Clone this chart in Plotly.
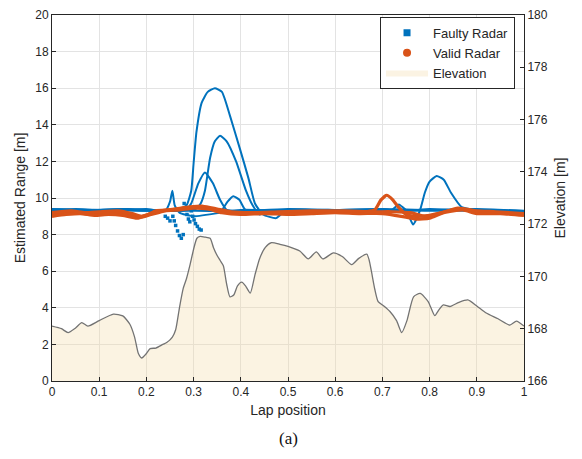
import plotly.graph_objects as go

BLUE = "#0072BD"
ORANGE = "#D95319"

# ---------------- Elevation profile ----------------
elev_x = [0.0, 0.02, 0.034, 0.05, 0.063, 0.076, 0.1, 0.13, 0.15, 0.165, 0.175, 0.183, 0.19, 0.2,
          0.208, 0.22, 0.235, 0.243, 0.255, 0.262, 0.27, 0.278, 0.285, 0.292, 0.3, 0.307, 0.314,
          0.325, 0.335, 0.342, 0.349, 0.356, 0.363, 0.37, 0.377, 0.385, 0.393, 0.402, 0.41, 0.42,
          0.43, 0.44, 0.452, 0.465, 0.483, 0.5, 0.525, 0.543, 0.56, 0.574, 0.596, 0.615, 0.635,
          0.65, 0.667, 0.672, 0.677, 0.684, 0.691, 0.703, 0.716, 0.73, 0.741, 0.752, 0.766, 0.78,
          0.797, 0.811, 0.82, 0.829, 0.843, 0.862, 0.881, 0.9, 0.92, 0.945, 0.97, 0.984, 1.0]
elev_m = [168.10, 168.00, 167.85, 168.03, 168.23, 168.10, 168.31, 168.56, 168.49, 168.17, 167.68,
          167.05, 166.88, 167.05, 167.24, 167.26, 167.40, 167.47, 167.68, 167.96, 168.80, 169.54,
          169.92, 170.41, 171.04, 171.46, 171.53, 171.50, 171.46, 171.11, 170.83, 170.62, 170.41,
          169.71, 169.22, 169.29, 169.64, 169.78, 169.64, 169.36, 170.06, 170.69, 171.11, 171.29,
          171.23, 171.15, 170.97, 170.67, 170.94, 170.67, 170.90, 170.76, 170.45, 170.69, 170.85,
          170.62, 170.17, 169.50, 169.04, 168.87, 168.66, 168.31, 167.85, 168.31, 169.22, 169.35,
          169.04, 168.50, 168.73, 168.91, 168.85, 169.01, 169.10, 168.87, 168.60, 168.38, 168.14,
          168.29, 168.10]

# ---------------- Faulty radar laps ----------------
fA_x = [0, 0.05, 0.1, 0.15, 0.2, 0.25, 0.27, 0.285, 0.295, 0.3, 0.306, 0.317, 0.33, 0.345, 0.36,
        0.377, 0.398, 0.416, 0.43, 0.447, 0.475, 0.497, 0.55, 0.6, 0.65, 0.7, 0.75, 0.8, 0.85, 0.9,
        0.95, 1.0]
fA_y = [9.35, 9.4, 9.35, 9.4, 9.3, 9.35, 9.4, 9.6, 10.4, 11.9, 13.6, 15.2, 15.8, 16.0, 15.8, 14.5,
        12.7, 11.1, 9.7, 9.1, 8.9, 9.35, 9.35, 9.35, 9.3, 9.35, 9.3, 9.4, 9.35, 9.3, 9.35, 9.2]

fB_x = [0, 0.1, 0.2, 0.28, 0.305, 0.315, 0.324, 0.335, 0.345, 0.356, 0.37, 0.39, 0.411, 0.425,
        0.44, 0.46, 0.5, 0.6, 0.7, 0.8, 0.9, 1.0]
fB_y = [9.3, 9.35, 9.3, 9.3, 9.4, 9.7, 10.4, 12.2, 13.1, 13.4, 13.1, 12.0, 10.4, 9.6, 9.1, 9.3,
        9.35, 9.3, 9.35, 9.3, 9.35, 9.25]

fC_x = [0, 0.08, 0.16, 0.22, 0.27, 0.285, 0.295, 0.31, 0.324, 0.341, 0.356, 0.37, 0.4, 0.5, 0.6,
        0.7, 0.8, 0.9, 1.0]
fC_y = [9.4, 9.35, 9.4, 9.3, 9.3, 9.4, 9.7, 10.8, 11.4, 10.8, 9.9, 9.35, 9.3, 9.4, 9.35, 9.4,
        9.35, 9.4, 9.3]

fD_x = [0, 0.1, 0.2, 0.3, 0.35, 0.36, 0.372, 0.384, 0.397, 0.41, 0.5, 0.6, 0.7, 0.75, 0.765,
        0.78, 0.79, 0.8, 0.815, 0.83, 0.845, 0.868, 0.9, 1.0]
fD_y = [9.3, 9.35, 9.35, 9.3, 9.3, 9.35, 9.8, 10.1, 9.9, 9.35, 9.3, 9.35, 9.3, 9.3, 8.55, 9.35,
        10.3, 10.9, 11.2, 11.0, 10.3, 9.5, 9.35, 9.25]

fE_x = [0, 0.1, 0.2, 0.24, 0.25, 0.255, 0.26, 0.27, 0.3, 0.4, 0.5, 0.6, 0.7, 0.72, 0.735, 0.75,
        0.8, 0.9, 1.0]
fE_y = [9.4, 9.3, 9.4, 9.3, 9.8, 10.4, 9.6, 9.2, 9.0, 9.35, 9.3, 9.35, 9.4, 9.35, 9.65, 9.35,
        9.35, 9.3, 9.2]

# scattered faulty detections below baseline
fF_x = [0.256, 0.259, 0.262, 0.266, 0.27, 0.274, 0.278, 0.28, 0.283, 0.286, 0.289, 0.292, 0.295,
        0.298, 0.301, 0.304, 0.308, 0.312, 0.316, 0.24, 0.245, 0.25]
fF_y = [9.0, 8.75, 8.5, 8.2, 7.95, 7.8, 8.0, 9.7, 9.4, 9.1, 8.85, 8.7, 9.3, 9.0, 8.8, 8.6, 8.45,
        8.3, 8.25, 9.0, 8.9, 8.75]

# ---------------- Valid radar laps ----------------
vA_x = [0, 0.02, 0.05, 0.08, 0.1, 0.13, 0.16, 0.18, 0.2, 0.22, 0.25, 0.28, 0.3, 0.33, 0.36, 0.4,
        0.45, 0.5, 0.55, 0.6, 0.65, 0.684, 0.697, 0.709, 0.722, 0.734, 0.75, 0.77, 0.8, 0.85, 0.87,
        0.9, 0.95, 1.0]
vA_y = [9.1, 9.2, 9.25, 9.1, 9.15, 9.2, 9.1, 8.95, 9.05, 9.3, 9.35, 9.45, 9.5, 9.45, 9.25, 9.15,
        9.2, 9.2, 9.25, 9.25, 9.2, 9.35, 9.9, 10.15, 9.9, 9.5, 9.1, 9.0, 9.05, 9.35, 9.4, 9.2, 9.2,
        9.1]

vB_x = [0, 0.03, 0.06, 0.09, 0.12, 0.15, 0.18, 0.21, 0.24, 0.27, 0.3, 0.33, 0.36, 0.4, 0.45, 0.5,
        0.55, 0.6, 0.65, 0.7, 0.74, 0.77, 0.8, 0.83, 0.87, 0.9, 0.95, 1.0]
vB_y = [9.0, 9.1, 9.15, 9.05, 9.1, 9.05, 8.9, 9.1, 9.3, 9.35, 9.45, 9.4, 9.2, 9.1, 9.15, 9.1,
        9.15, 9.2, 9.15, 9.15, 9.0, 8.85, 8.9, 9.2, 9.35, 9.15, 9.15, 9.05]

vC_x = [0, 0.04, 0.07, 0.1, 0.14, 0.17, 0.19, 0.22, 0.26, 0.29, 0.32, 0.35, 0.38, 0.42, 0.48,
        0.55, 0.62, 0.68, 0.72, 0.76, 0.79, 0.82, 0.86, 0.9, 0.94, 1.0]
vC_y = [9.2, 9.3, 9.2, 9.25, 9.3, 9.15, 9.0, 9.25, 9.4, 9.5, 9.55, 9.4, 9.25, 9.2, 9.25, 9.3,
        9.3, 9.25, 9.25, 9.2, 9.0, 9.15, 9.45, 9.3, 9.25, 9.15]

# ---------------- Axis ticks ----------------
x_ticks = [0, 0.1, 0.2, 0.3, 0.4, 0.5, 0.6, 0.7, 0.8, 0.9, 1]
x_tick_labels = ["0", "0.1", "0.2", "0.3", "0.4", "0.5", "0.6", "0.7", "0.8", "0.9", "1"]
y_ticks = [0, 2, 4, 6, 8, 10, 12, 14, 16, 18, 20]
y2_ticks = [166, 168, 170, 172, 174, 176, 178, 180]

FONT = "Liberation Sans, Arial, sans-serif"
AXC = "#262626"

fig = go.Figure()

# elevation (secondary axis)
fig.add_trace(go.Scatter(
    x=elev_x, y=elev_m, yaxis="y2", mode="lines", name="Elevation",
    line=dict(color="#737373", width=1.3, shape="spline", smoothing=0.6), fill="tozeroy",
    fillcolor="rgba(242,218,165,0.32)", showlegend=False))

faulty = [(fA_x, fA_y), (fB_x, fB_y), (fC_x, fC_y), (fD_x, fD_y), (fE_x, fE_y)]
for fx, fy in faulty:
    fig.add_trace(go.Scatter(x=fx, y=fy, mode="lines",
                             line=dict(color=BLUE, width=2.0, shape="spline", smoothing=0.5),
                             showlegend=False, hoverinfo="skip"))
fig.add_trace(go.Scatter(x=fF_x, y=fF_y, mode="markers",
                         marker=dict(color=BLUE, size=3.5, symbol="square"),
                         showlegend=False, hoverinfo="skip"))

valid = [(vA_x, vA_y), (vB_x, vB_y), (vC_x, vC_y)]
for vx, vy in valid:
    fig.add_trace(go.Scatter(x=vx, y=vy, mode="lines",
                             line=dict(color=ORANGE, width=3.2, shape="spline", smoothing=0.5),
                             showlegend=False, hoverinfo="skip"))

# legend entries
fig.add_trace(go.Scatter(x=[None], y=[None], mode="markers", name="Faulty Radar",
                         marker=dict(color=BLUE, size=7, symbol="square")))
fig.add_trace(go.Scatter(x=[None], y=[None], mode="markers", name="Valid Radar",
                         marker=dict(color=ORANGE, size=8, symbol="circle")))
fig.add_trace(go.Scatter(x=[None], y=[None], mode="lines", name="Elevation",
                         line=dict(color="rgba(0,0,0,0)", width=0), fill="toself",
                         fillcolor="#FBF3E3"))

fig.update_layout(
    width=582, height=459,
    margin=dict(l=52, r=58, t=8, b=78),
    paper_bgcolor="white", plot_bgcolor="white",
    font=dict(family=FONT, size=12, color=AXC),
    xaxis=dict(range=[0, 1], tickvals=x_ticks, ticktext=x_tick_labels,
               showgrid=True, gridcolor="#e3e3e3", gridwidth=1,
               showline=True, linecolor=AXC, linewidth=1, mirror=True,
               ticks="inside", ticklen=4, tickcolor=AXC, zeroline=False,
               title=dict(text="Lap position", font=dict(size=14), standoff=6)),
    yaxis=dict(range=[0, 20], tickvals=y_ticks, showgrid=True, gridcolor="#e3e3e3",
               showline=True, linecolor=AXC, linewidth=1, mirror=False,
               ticks="inside", ticklen=4, tickcolor=AXC, zeroline=False,
               title=dict(text="Estimated Range [m]", font=dict(size=14), standoff=6)),
    yaxis2=dict(range=[166, 180], tickvals=y2_ticks, overlaying="y", side="right",
                showgrid=False, showline=True, linecolor=AXC, linewidth=1,
                ticks="inside", ticklen=4, tickcolor=AXC, zeroline=False,
                title=dict(text="Elevation [m]", font=dict(size=14), standoff=8)),
    legend=dict(x=0.981, y=0.995, xanchor="right", yanchor="top",
                bgcolor="white", bordercolor=AXC, borderwidth=1,
                font=dict(size=13), tracegroupgap=0, itemwidth=42),
    showlegend=True,
    annotations=[dict(text="(a)", xref="paper", yref="paper", x=0.5, y=-0.125,
                      xanchor="center", yanchor="top", showarrow=False,
                      font=dict(family="Liberation Serif, Times New Roman, serif", size=17,
                                color="#111"))],
)

fig.write_html("out.html")
